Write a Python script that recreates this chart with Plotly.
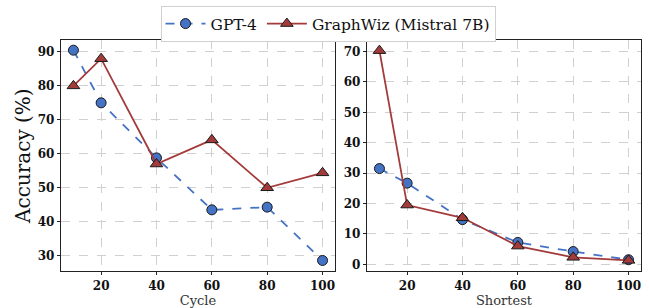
import plotly.graph_objects as go
from plotly.subplots import make_subplots

x_vals = [10, 20, 40, 60, 80, 100]
cycle_gpt4 = [90.5, 75.0, 58.8, 43.5, 44.3, 28.6]
cycle_graphwiz = [80.0, 88.0, 57.0, 64.1, 50.0, 54.4]
short_gpt4 = [31.5, 26.7, 14.7, 7.2, 4.2, 1.5]
short_graphwiz = [70.3, 19.5, 15.3, 6.0, 2.3, 1.3]
x_ticks = [20, 40, 60, 80, 100]

BLUE = "#4472C4"
RED = "#A33B3B"
FONT = "DejaVu Serif"

fig = make_subplots(rows=1, cols=2)

def add(col, y, name, color, dash, symbol, size, show):
    fig.add_trace(go.Scatter(
        x=x_vals, y=y, name=name, mode="lines+markers",
        line=dict(color=color, width=1.8, dash=dash),
        marker=dict(symbol=symbol, size=size, color=color,
                    line=dict(color="#1a1a1a", width=1)),
        showlegend=show, legendgroup=name), row=1, col=col)

add(1, cycle_gpt4, "GPT-4", BLUE, "dash", "circle", 10, True)
add(1, cycle_graphwiz, "GraphWiz (Mistral 7B)", RED, "solid", "triangle-up", 11, True)
add(2, short_gpt4, "GPT-4", BLUE, "dash", "circle", 10, False)
add(2, short_graphwiz, "GraphWiz (Mistral 7B)", RED, "solid", "triangle-up", 11, False)

W, H = 649, 308
ydom = [1 - 271 / H, 1 - 40 / H]
axis_common = dict(showline=True, linecolor="#222", linewidth=1.3, mirror=True,
                   ticks="outside", ticklen=3, tickcolor="#222",
                   showgrid=True, gridcolor="#d0d0d0", griddash="dash", gridwidth=1,
                   zeroline=False,
                   tickfont=dict(family=FONT, size=12, color="#111", weight="bold"))

fig.update_xaxes(**axis_common, tickvals=x_ticks, range=[5.5, 104.5])
fig.update_yaxes(**axis_common)
fig.update_layout(
    xaxis=dict(domain=[61 / W, 335 / W],
               title=dict(text="Cycle", font=dict(family=FONT, size=13, color="#333"), standoff=3)),
    xaxis2=dict(domain=[367 / W, 641 / W],
                title=dict(text="Shortest", font=dict(family=FONT, size=13, color="#333"), standoff=3)),
    yaxis=dict(domain=ydom, range=[25.5, 93.5], tickvals=[30, 40, 50, 60, 70, 80, 90]),
    yaxis2=dict(domain=ydom, range=[-2.2, 73.8], tickvals=[0, 10, 20, 30, 40, 50, 60, 70]),
    width=W, height=H,
    margin=dict(l=0, r=0, t=0, b=0),
    paper_bgcolor="white", plot_bgcolor="white",
    font=dict(family=FONT, color="#111"),
    legend=dict(orientation="h", x=328 / W, xanchor="center", y=1 - 6 / H, yanchor="top",
                bordercolor="#d0d0d0", borderwidth=1, bgcolor="white",
                font=dict(family=FONT, size=15.5, color="#111"),
                itemwidth=40, tracegroupgap=0),
    annotations=[dict(text="Accuracy (%)", x=23 / W, y=(1 - 156 / H), xref="paper", yref="paper",
                      textangle=-90, showarrow=False, xanchor="center", yanchor="middle",
                      font=dict(family=FONT, size=20, color="#111"))],
)

fig.write_html("out.html", config={"displayModeBar": False},
               post_script="document.body.style.margin='0';")
